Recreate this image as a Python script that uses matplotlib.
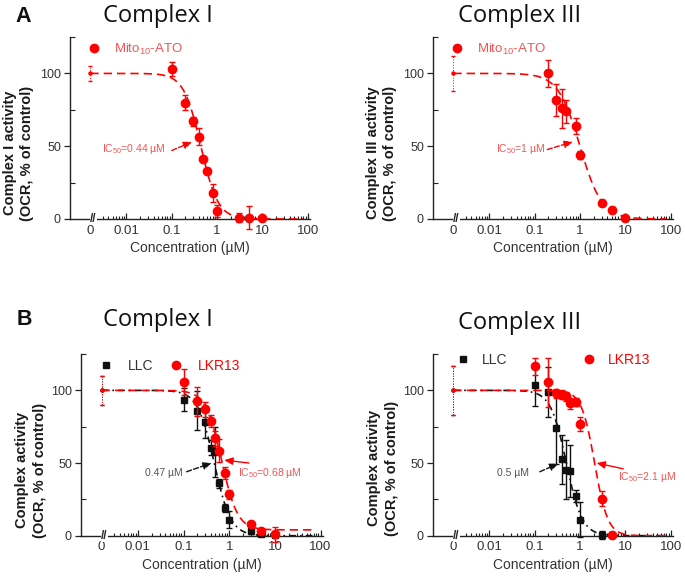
import numpy as np
import matplotlib
matplotlib.use('Agg')
import matplotlib.pyplot as plt
from matplotlib.lines import Line2D
from matplotlib.ticker import FixedLocator, FixedFormatter, NullFormatter

plt.rcParams['font.family'] = ['Liberation Sans', 'DejaVu Sans']
plt.rcParams['mathtext.fontset'] = 'custom'
plt.rcParams['mathtext.rm'] = 'Liberation Sans'
plt.rcParams['mathtext.it'] = 'Liberation Sans:italic'
plt.rcParams['mathtext.bf'] = 'Liberation Sans:bold'

# ---------------- data ----------------
# Panel A, Complex I (Mito10-ATO)
a1_conc = [0.1, 0.2, 0.3, 0.4, 0.5, 0.6, 0.8, 1, 3, 5, 10]
a1_val = [103, 80, 67, 56.5, 41.5, 33, 18, 5.5, 1, 1, 0.5]
a1_err = [5, 5, 3, 6, 2, 2, 6, 4, 3, 8, 1]
a1_ctrl_err = 5
a1_fit = dict(top=100, bottom=0, ic50=0.44, hill=2.3)

# Panel A, Complex III (Mito10-ATO)
a3_conc = [0.2, 0.3, 0.4, 0.5, 0.8, 1, 3, 5, 10]
a3_val = [100, 82, 76, 74, 64, 44, 11, 6.5, 0.5]
a3_err = [9, 11, 13.5, 8, 5.5, 3, 2, 2, 1]
a3_ctrl_err = 12
a3_fit = dict(top=100, bottom=0, ic50=1.0, hill=1.8)

# Panel B, Complex I
b1_llc_conc = [0.1, 0.2, 0.3, 0.4, 0.5, 0.6, 0.8, 1, 3, 5, 10]
b1_llc_val = [93.5, 86, 78, 60.5, 57.5, 36, 19, 11, 3.5, 1, 0.5]
b1_llc_err = [8, 13.5, 11, 5, 17, 3, 3, 6, 2, 1, 1]
b1_llc_fit = dict(top=100, bottom=0, ic50=0.47, hill=2.4)
b1_lkr_conc = [0.1, 0.2, 0.3, 0.4, 0.5, 0.6, 0.8, 1, 3, 5, 10]
b1_lkr_val = [105.5, 92.5, 87, 79, 67, 58.5, 43, 28.5, 8, 3.5, 1]
b1_lkr_err = [9, 10, 5, 4, 5, 8, 4, 3, 1, 1, 5]
b1_lkr_fit = dict(top=100, bottom=4, ic50=0.68, hill=2.5)
b1_ctrl_err = 10

# Panel B, Complex III
b3_llc_conc = [0.1, 0.2, 0.3, 0.4, 0.5, 0.6, 0.8, 1, 3]
b3_llc_val = [103.5, 99, 74, 52.5, 45.5, 44.5, 27.5, 11, 0.5]
b3_llc_err = [14.5, 17, 25, 17, 20, 18, 4, 12, 3]
b3_llc_fit = dict(top=100, bottom=0, ic50=0.5, hill=2.5)
b3_lkr_conc = [0.1, 0.2, 0.3, 0.4, 0.5, 0.6, 0.8, 1, 3, 5]
b3_lkr_val = [116.5, 105.5, 98, 97, 96, 91, 92, 77, 25.5, 0.5]
b3_lkr_err = [6, 17, 3, 3, 3, 4, 3, 5, 5, 2]
b3_lkr_fit = dict(top=100, bottom=0, ic50=2.1, hill=3.0)
b3_ctrl_err = 17

x_tick_labels = ['0', '0.01', '0.1', '1', '10', '100']
y_tick_labels = ['0', '50', '100']

# ---------------- styling ----------------
RED = '#ff0000'
RED_TXT = '#f25555'
BLACK = '#111111'
GRAY_TXT = '#555555'
AX_COL = '#222222'
ZERO_X = 0.0016      # where the "0" concentration sits on the log axis
BREAK_X = 0.00185
XLIM = (10 ** -3.245, 113)
YLIM = (0, 125)

fig = plt.figure(figsize=(6.85, 5.76), dpi=100)


def hill(x, top, bottom, ic50, hill):
    return bottom + (top - bottom) / (1 + (x / ic50) ** hill)


def setup_axis(ax):
    ax.set_xscale('log')
    ax.set_xlim(*XLIM)
    ax.set_ylim(*YLIM)
    for s in ('top', 'right'):
        ax.spines[s].set_visible(False)
    for s in ('left', 'bottom'):
        ax.spines[s].set_color(AX_COL)
        ax.spines[s].set_linewidth(1.0)
    majors = [ZERO_X, 0.01, 0.1, 1, 10, 100]
    ax.xaxis.set_major_locator(FixedLocator(majors))
    ax.xaxis.set_major_formatter(FixedFormatter(x_tick_labels))
    minors = [m * 10.0 ** e for e in range(-3, 3) for m in range(2, 10)
              if BREAK_X < m * 10.0 ** e < 105]
    ax.xaxis.set_minor_locator(FixedLocator(minors))
    ax.xaxis.set_minor_formatter(NullFormatter())
    ax.tick_params(axis='x', which='major', direction='in', length=4.5, width=0.9,
                   pad=4, labelsize=9.5, labelcolor='#333333', color=AX_COL)
    ax.tick_params(axis='x', which='minor', direction='in', length=2.3, width=0.8,
                   color=AX_COL)
    ax.xaxis.get_major_ticks()[0].tick1line.set_visible(False)
    ax.yaxis.set_major_locator(FixedLocator([0, 50, 100]))
    ax.yaxis.set_major_formatter(FixedFormatter(y_tick_labels))
    ax.yaxis.set_minor_locator(FixedLocator([25, 75, 125]))
    ax.tick_params(axis='y', which='major', direction='out', length=4, width=0.9,
                   pad=2.5, labelsize=9, labelcolor='#333333', color=AX_COL)
    ax.tick_params(axis='y', which='minor', direction='in', length=3.5, width=0.8,
                   color=AX_COL)
    ax.text(BREAK_X, 0, '//', transform=ax.get_xaxis_transform(), ha='center',
            va='center', fontsize=8.5, color=AX_COL, fontweight='bold',
            bbox=dict(facecolor='white', edgecolor='none', pad=0.2))
    ax.set_xlabel('Concentration (µM)', fontsize=10, color='#333333')
    ax.xaxis.set_label_coords(0.5, -0.12)


def draw_series(ax, conc, val, err, fit, ctrl_err, color, marker, ms, ls, z):
    xs = np.geomspace(ZERO_X, 80, 400)
    ax.plot(xs, hill(xs, **fit), color=color, lw=1.2, linestyle=ls, zorder=z)
    ax.errorbar(conc, val, yerr=err, fmt=marker, color=color, ms=ms, capsize=2,
                elinewidth=1.0, capthick=1.0, clip_on=False, zorder=z + 1)
    c = ax.errorbar([ZERO_X], [100], yerr=[ctrl_err], fmt='o', color=color, ms=2.2,
                    capsize=1.2, elinewidth=0.7, capthick=1.0, clip_on=False,
                    zorder=z + 1)
    c[2][0].set_linestyle(':')


def arrow(ax, start, tip, color, ls):
    ax.annotate('', xy=tip, xytext=start,
                arrowprops=dict(arrowstyle='-|>,head_length=0.5,head_width=0.22',
                                color=color, lw=1.0, linestyle=ls,
                                shrinkA=0, shrinkB=0))


def ylabel(x, y, text):
    fig.text(x, y, text, rotation=90, ha='center', va='center', fontsize=10.5,
             fontweight='bold', color='#1a1a1a', linespacing=1.3,
             multialignment='center')


RED_DASH = (0, (5, 3))
BLK_DASH = (0, (4, 2.5, 1, 2.5))

# ---------------- Panel A, Complex I ----------------
ax = fig.add_axes([70 / 685, 1 - 219 / 576, 240 / 685, 182 / 576])
setup_axis(ax)
draw_series(ax, a1_conc, a1_val, a1_err, a1_fit, a1_ctrl_err, RED, 'o', 6, RED_DASH, 3)
ax.legend(handles=[Line2D([], [], color=RED, marker='o', ls='none', ms=6)],
          labels=[r'Mito$_{10}$-ATO'], loc='center left', bbox_to_anchor=(0.0725, 0.934),
          frameon=False, fontsize=9.5, handlelength=1.0, handletextpad=1.0,
          borderaxespad=0, borderpad=0, labelcolor=[RED_TXT])
ax.text(0.0029, 48, r'IC$_{50}$=0.44 µM', color=RED_TXT, fontsize=7.5, ha='left', va='center')
arrow(ax, (0.1, 47), (0.28, 53), RED, '--')

# ---------------- Panel A, Complex III ----------------
ax = fig.add_axes([433 / 685, 1 - 219 / 576, 240 / 685, 182 / 576])
setup_axis(ax)
draw_series(ax, a3_conc, a3_val, a3_err, a3_fit, a3_ctrl_err, RED, 'o', 6, RED_DASH, 3)
ax.legend(handles=[Line2D([], [], color=RED, marker='o', ls='none', ms=6)],
          labels=[r'Mito$_{10}$-ATO'], loc='center left', bbox_to_anchor=(0.072, 0.934),
          frameon=False, fontsize=9.5, handlelength=1.0, handletextpad=1.0,
          borderaxespad=0, borderpad=0, labelcolor=[RED_TXT])
ax.text(0.014, 48, r'IC$_{50}$=1 µM', color=RED_TXT, fontsize=7.5, ha='left', va='center')
arrow(ax, (0.19, 47.7), (0.69, 53), RED, '--')

# ---------------- Panel B, Complex I ----------------
ax = fig.add_axes([81 / 685, 1 - 535.7 / 576, 242 / 685, 181.7 / 576])
setup_axis(ax)
draw_series(ax, b1_llc_conc, b1_llc_val, b1_llc_err, b1_llc_fit, b1_ctrl_err, BLACK, 's', 5, BLK_DASH, 2)
draw_series(ax, b1_lkr_conc, b1_lkr_val, b1_lkr_err, b1_lkr_fit, b1_ctrl_err, RED, 'o', 6, RED_DASH, 4)
ax.legend(handles=[Line2D([], [], color=BLACK, marker='s', ls='none', ms=5),
                   Line2D([], [], color=RED, marker='o', ls='none', ms=6)],
          labels=['LLC', 'LKR13'], loc='center left', bbox_to_anchor=(0.074, 0.936),
          frameon=False, fontsize=10, handlelength=1.0, handletextpad=1.1,
          columnspacing=1.1, ncol=2, borderaxespad=0, borderpad=0,
          labelcolor=['#333333', RED])
ax.text(0.0143, 43, '0.47 µM', color=GRAY_TXT, fontsize=7.5, ha='left', va='center')
arrow(ax, (0.117, 44), (0.41, 50), BLACK, '--')
ax.text(1.55, 43, r'IC$_{50}$=0.68 µM', color=RED_TXT, fontsize=7.5, ha='left', va='center')
arrow(ax, (2.7, 50), (0.78, 52), RED, '-')

# ---------------- Panel B, Complex III ----------------
ax = fig.add_axes([433 / 685, 1 - 535.7 / 576, 240 / 685, 181.7 / 576])
setup_axis(ax)
draw_series(ax, b3_llc_conc, b3_llc_val, b3_llc_err, b3_llc_fit, b3_ctrl_err, BLACK, 's', 5, BLK_DASH, 2)
draw_series(ax, b3_lkr_conc, b3_lkr_val, b3_lkr_err, b3_lkr_fit, b3_ctrl_err, RED, 'o', 6, RED_DASH, 4)
ax.legend(handles=[Line2D([], [], color=BLACK, marker='s', ls='none', ms=5),
                   Line2D([], [], color=RED, marker='o', ls='none', ms=6)],
          labels=['LLC', 'LKR13'], loc='center left', bbox_to_anchor=(0.096, 0.967),
          frameon=False, fontsize=10, handlelength=1.0, handletextpad=0.85,
          columnspacing=5.4, ncol=2, borderaxespad=0, borderpad=0,
          labelcolor=['#333333', RED])
ax.text(0.015, 43, '0.5 µM', color=GRAY_TXT, fontsize=7.5, ha='left', va='center')
arrow(ax, (0.13, 44), (0.33, 49.6), BLACK, '--')
ax.text(6.8, 40.7, r'IC$_{50}$=2.1 µM', color=RED_TXT, fontsize=7.5, ha='left', va='center')
arrow(ax, (9.0, 46), (2.33, 50), RED, '-')

# ---------------- y labels, titles, panel letters ----------------
ylabel(18.5 / 685, 1 - 153 / 576, 'Complex I activity\n(OCR, % of control)')
ylabel(381.5 / 685, 1 - 153 / 576, 'Complex III activity\n(OCR, % of control)')
ylabel(31 / 685, 1 - 470 / 576, 'Complex activity\n(OCR, % of control)')
ylabel(383 / 685, 1 - 468 / 576, 'Complex activity\n(OCR, % of control)')

TITLE_FONT = ['Open Sans', 'DejaVu Sans']
TITLE_SIZE = 17
fig.text(157.5 / 685, 1 - 21.5 / 576, 'Complex I', family=TITLE_FONT, fontsize=TITLE_SIZE,
         ha='center', va='baseline', color='#111111')
fig.text(520 / 685, 1 - 21.7 / 576, 'Complex III', family=TITLE_FONT, fontsize=TITLE_SIZE,
         ha='center', va='baseline', color='#111111')
fig.text(157.5 / 685, 1 - 326 / 576, 'Complex I', family=TITLE_FONT, fontsize=TITLE_SIZE,
         ha='center', va='baseline', color='#111111')
fig.text(520 / 685, 1 - 329 / 576, 'Complex III', family=TITLE_FONT, fontsize=TITLE_SIZE,
         ha='center', va='baseline', color='#111111')
fig.text(15 / 685, 1 - 22 / 576, 'A', fontsize=15.5, fontweight='bold', ha='left',
         va='baseline', color='#111111')
fig.text(17 / 685, 1 - 325 / 576, 'B', fontsize=15.5, fontweight='bold', ha='left',
         va='baseline', color='#111111')

fig.savefig('out.png', dpi=100)
